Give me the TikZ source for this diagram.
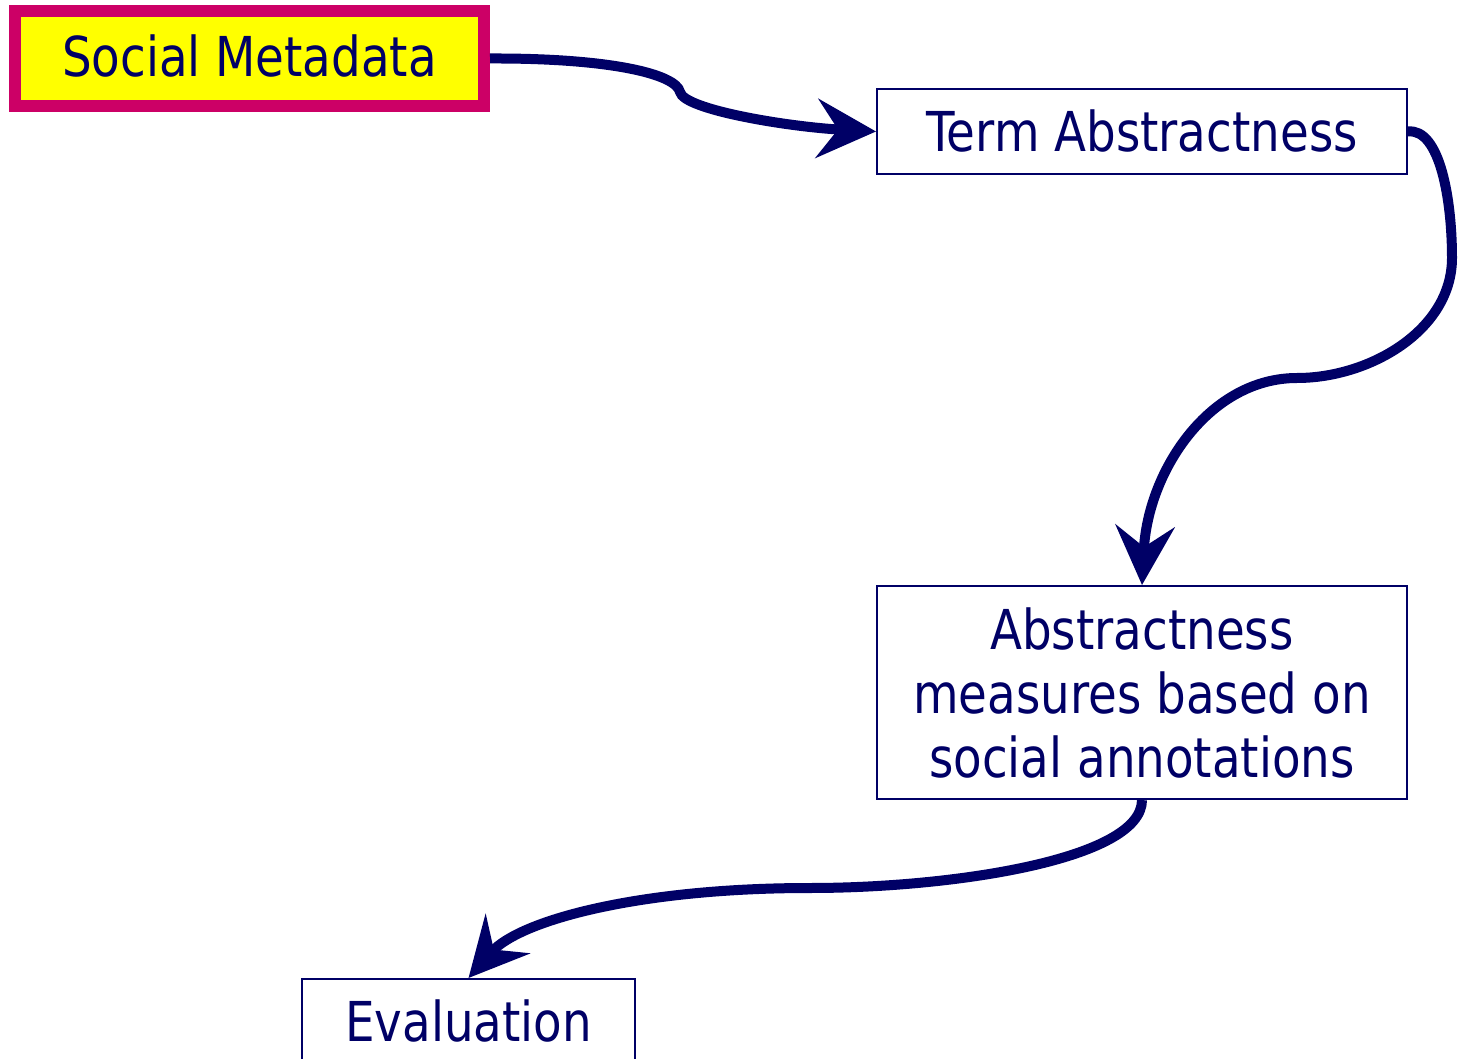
\documentclass[tikz,border=0pt]{standalone}
\usepackage{fontspec}
\setmainfont[FakeStretch=0.85]{DejaVu Sans}
\usetikzlibrary{arrows.meta}
\definecolor{navy}{RGB}{0,0,102}
\definecolor{crimson}{RGB}{204,0,102}
\definecolor{brightyellow}{RGB}{255,255,0}
\tikzset{
  boxtext/.style={text=navy, font=\fontsize{27.5pt}{32pt}\selectfont,
    inner sep=0pt, align=center},
  plainbox/.style={boxtext, draw=navy, line width=1pt, fill=white},
  keybox/.style={boxtext, draw=crimson, line width=6pt, fill=brightyellow},
  flow/.style={draw=navy, line width=5pt,
    -{Stealth[length=29.5pt, width=29.5pt, inset=10.5pt]}},
}
\begin{document}
\begin{tikzpicture}[x=0.5pt, y=-0.5pt]
  \useasboundingbox (0,0) rectangle (1458,1059);
  \clip (0,0) rectangle (1458,1059);

  % boxes
  \node[keybox, minimum width=234.5pt, minimum height=47.5pt,
        text height=20pt, text depth=2pt] (sm) at (249.5,58.5) {Social Metadata};
  \node[plainbox, minimum width=265pt, minimum height=42.5pt,
        text height=20pt, text depth=0pt] (ta) at (1142,131.5) {Term Abstractness};
  \node[plainbox, minimum width=265pt, minimum height=106.5pt] (am) at (1142,692.5)
        {Abstractness\\measures based on\\social annotations};
  \node[plainbox, minimum width=166.5pt, minimum height=75pt,
        text height=20pt, text depth=33pt] (ev) at (468.5,1054) {Evaluation};

  % connectors
  \draw[flow] (sm.east) .. controls (610,58) and (676,74) .. (680,92)
              .. controls (684,110) and (790,127) .. (ta.west);
  \draw[flow] (ta.east) .. controls (1440,128) and (1452,200) .. (1452,258)
              .. controls (1452,330) and (1370,378) .. (1297,378)
              .. controls (1210,378) and (1148,470) .. (am.north);
  \draw[flow] (am.south) .. controls (1142,860) and (950,888) .. (810,888)
              .. controls (640,888) and (520,920) .. (ev.north);
\end{tikzpicture}
\end{document}
